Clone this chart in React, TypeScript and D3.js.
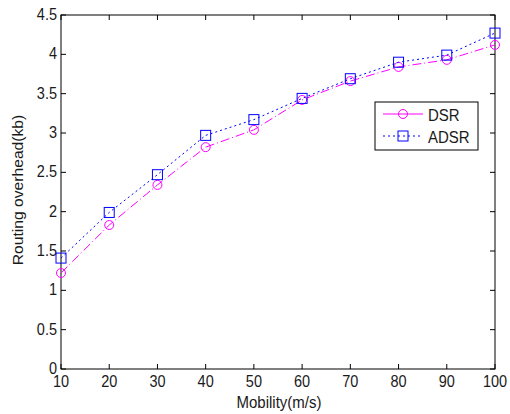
import React from "react";
import * as d3 from "d3";

const mobility = [10, 20, 30, 40, 50, 60, 70, 80, 90, 100];
const dsr = [1.22, 1.83, 2.34, 2.82, 3.04, 3.42, 3.66, 3.84, 3.93, 4.12];
const adsr = [1.41, 1.99, 2.47, 2.97, 3.17, 3.44, 3.69, 3.9, 3.99, 4.27];
const xTicks = [10, 20, 30, 40, 50, 60, 70, 80, 90, 100];
const yTicks = [0, 0.5, 1, 1.5, 2, 2.5, 3, 3.5, 4, 4.5];

const W = 510;
const H = 414;
const left = 61;
const right = 495;
const top = 15;
const bottom = 369;
const font = "'Liberation Sans', Arial, sans-serif";
const ink = "#1a1a1a";
const stretch = 1.12;

export default function App() {
  const x = d3.scaleLinear().domain([10, 100]).range([left, right]);
  const y = d3.scaleLinear().domain([0, 4.5]).range([bottom, top]);
  const line = d3
    .line<number>()
    .x((_, i) => x(mobility[i]))
    .y((d) => y(d));

  const tickLen = 5;

  return (
    <svg
      width={W}
      height={H}
      style={{ position: "absolute", left: 0, top: 0, background: "#fff" }}
      fontFamily={font}
    >
      <rect x={0} y={0} width={W} height={H} fill="#fff" />
      {/* axes box */}
      <rect
        x={left}
        y={top}
        width={right - left}
        height={bottom - top}
        fill="none"
        stroke="#000"
        strokeWidth={1}
      />
      {xTicks.map((t) => (
        <g key={"x" + t}>
          <line x1={x(t)} x2={x(t)} y1={bottom} y2={bottom - tickLen} stroke="#000" />
          <line x1={x(t)} x2={x(t)} y1={top} y2={top + tickLen} stroke="#000" />
          <text
            transform={`translate(${x(t)},${bottom + 18}) scale(1,${stretch})`}
            textAnchor="middle"
            fontSize={14.5}
            fill={ink}
          >
            {t}
          </text>
        </g>
      ))}
      {yTicks.map((t) => (
        <g key={"y" + t}>
          <line x1={left} x2={left + tickLen} y1={y(t)} y2={y(t)} stroke="#000" />
          <line x1={right} x2={right - tickLen} y1={y(t)} y2={y(t)} stroke="#000" />
          <text
            transform={`translate(${left - 4},${y(t) + 5}) scale(1,${stretch})`}
            textAnchor="end"
            fontSize={14.5}
            fill={ink}
          >
            {t}
          </text>
        </g>
      ))}
      <text
        transform={`translate(${(left + right) / 2 + 1},408) scale(1,${stretch})`}
        textAnchor="middle"
        fontSize={15}
        fill={ink}
      >
        Mobility(m/s)
      </text>
      <text
        transform={`translate(23,190) rotate(-90) scale(1.08,1)`}
        textAnchor="middle"
        fontSize={14.5}
        fill={ink}
      >
        Routing overhead(kb)
      </text>

      {/* DSR series */}
      <path d={line(dsr) ?? ""} fill="none" stroke="#ff00ff" strokeWidth={1} strokeDasharray="9,3,1,3" />
      {dsr.map((v, i) => (
        <circle key={"c" + i} cx={x(mobility[i])} cy={y(v)} r={4.5} fill="none" stroke="#ff00ff" strokeWidth={1} />
      ))}
      {/* ADSR series */}
      <path d={line(adsr) ?? ""} fill="none" stroke="#0000ff" strokeWidth={1} strokeDasharray="2,3" />
      {adsr.map((v, i) => (
        <rect key={"s" + i} x={x(mobility[i]) - 5} y={y(v) - 5} width={10} height={10} fill="none" stroke="#0000ff" strokeWidth={1} />
      ))}

      {/* legend */}
      <rect x={375} y={102} width={103} height={48} fill="#fff" stroke="#000" strokeWidth={1} />
      <line x1={383} x2={423} y1={114} y2={114} stroke="#ff00ff" strokeWidth={1} />
      <circle cx={403} cy={114} r={4.5} fill="none" stroke="#ff00ff" />
      <text transform={`translate(428,121) scale(1,1.15)`} fontSize={15} fill={ink}>DSR</text>
      <line x1={383} x2={423} y1={136} y2={136} stroke="#0000ff" strokeWidth={1} strokeDasharray="2,3" />
      <rect x={398} y={131} width={10} height={10} fill="none" stroke="#0000ff" />
      <text transform={`translate(428,143) scale(1,1.15)`} fontSize={15} fill={ink}>ADSR</text>
    </svg>
  );
}
